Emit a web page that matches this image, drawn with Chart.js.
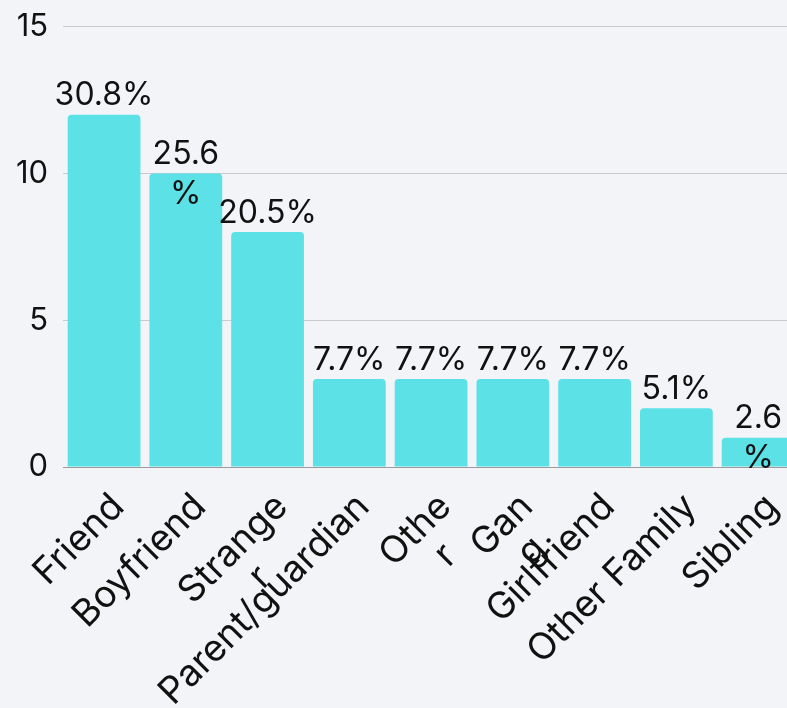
<!DOCTYPE html>
<html lang="en">
<head>
  <meta charset="UTF-8">
  <title>Relationship</title>
  <script src="https://cdn.jsdelivr.net/npm/chart.js"></script>
  <style>
    * { margin: 0; padding: 0; box-sizing: border-box; }
    body {
      background-color: #f3f4f8;
      width: 787px;
      height: 708px;
      overflow: hidden;
      position: relative;
    }
    .chart-box {
      position: absolute;
      left: 0;
      top: -7px;
      width: 799px;
      height: 715px;
    }
  </style>
</head>
<body>
  <div class="chart-box">
    <canvas id="relChart"></canvas>
  </div>

  <script>
    const categories = ['Friend', 'Boyfriend', ['Strange', 'r'], 'Parent/guardian', ['Othe', 'r'], ['Gan', 'g'], 'Girlfriend', 'Other Family', 'Sibling'];
    const counts = [12, 10, 8, 3, 3, 3, 3, 2, 1];
    const percentLabels = [['30.8%'], ['25.6', '%'], ['20.5%'], ['7.7%'], ['7.7%'], ['7.7%'], ['7.7%'], ['5.1%'], ['2.6', '%']];
    const yTicks = [0, 5, 10, 15];

    const fontFamily = "Inter, 'Open Sans', sans-serif";
    const xFontSize = 37;

    // rotated multiline ticks are right aligned by chart.js, pad short lines so they sit centred
    const measureCtx = document.createElement('canvas').getContext('2d');
    const centreLines = (label) => {
      if (!Array.isArray(label)) return label;
      measureCtx.font = xFontSize + 'px ' + fontFamily;
      const widths = label.map(l => measureCtx.measureText(l).width);
      const maxW = Math.max(...widths);
      const spaceW = measureCtx.measureText(' ').width;
      return label.map((l, i) => l + ' '.repeat(Math.round((maxW - widths[i]) / 2 / spaceW)));
    };

    // draws the percentage text over each bar
    const percentPlugin = {
      id: 'percentPlugin',
      afterDatasetsDraw(chart) {
        const ctx = chart.ctx;
        const meta = chart.getDatasetMeta(0);
        ctx.save();
        ctx.font = '32px ' + fontFamily;
        ctx.fillStyle = '#111';
        ctx.textAlign = 'center';
        ctx.textBaseline = 'middle';
        meta.data.forEach((bar, i) => {
          const lines = percentLabels[i];
          lines.forEach((line, j) => {
            ctx.fillText(line, bar.x, bar.y - 19 + j * 40);
          });
        });
        ctx.restore();
      }
    };

    new Chart(document.getElementById('relChart').getContext('2d'), {
      type: 'bar',
      data: {
        labels: categories,
        datasets: [{
          data: counts,
          backgroundColor: '#5ce1e6',
          borderRadius: { topLeft: 4, topRight: 4 },
          borderSkipped: 'bottom',
          barPercentage: 0.89,
          categoryPercentage: 1
        }]
      },
      options: {
        responsive: true,
        maintainAspectRatio: false,
        animation: false,
        layout: { padding: { top: 0, left: 1, right: 0, bottom: 0 } },
        plugins: {
          legend: { display: false },
          tooltip: { enabled: false }
        },
        scales: {
          x: {
            afterFit: (axis) => { axis.height = 241; },
            grid: { display: false },
            border: { display: false },
            ticks: {
              color: '#111',
              font: { family: fontFamily, size: xFontSize, lineHeight: 1.05 },
              maxRotation: 45,
              minRotation: 45,
              autoSkip: false,
              padding: 12,
              labelOffset: 14,
              callback: (value, index) => centreLines(categories[index])
            }
          },
          y: {
            min: 0,
            max: 15,
            afterBuildTicks: (axis) => {
              axis.ticks = yTicks.map(v => ({ value: v }));
            },
            border: { display: false },
            grid: {
              color: (c) => c.tick && c.tick.value === 0 ? '#9a9a9f' : '#c9c9cf',
              drawTicks: false
            },
            ticks: {
              color: '#111',
              font: { family: fontFamily, size: 31 },
              padding: 15
            }
          }
        }
      },
      plugins: [percentPlugin]
    });
  </script>
</body>
</html>
